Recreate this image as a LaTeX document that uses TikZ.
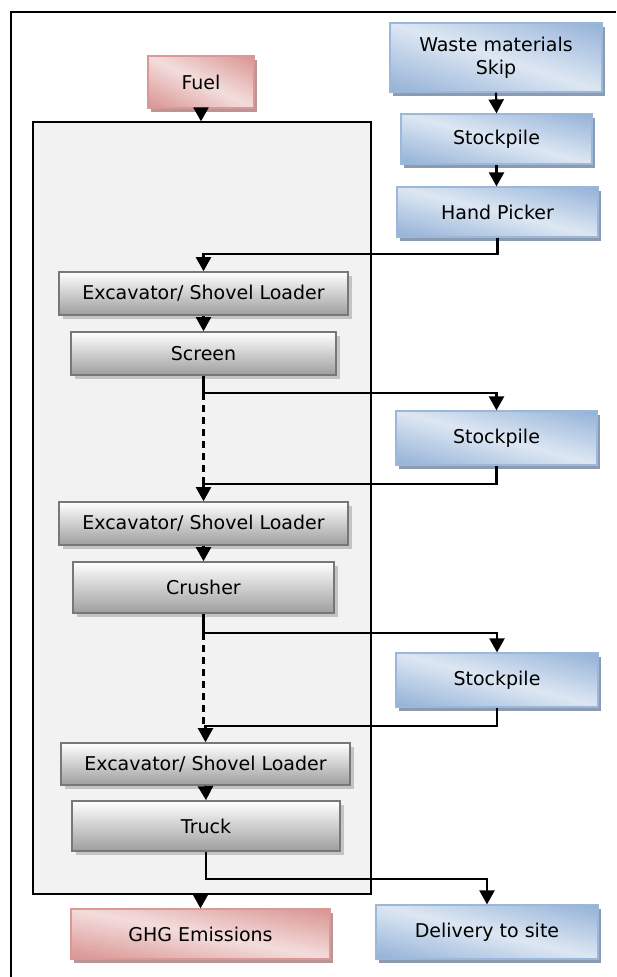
\documentclass[tikz,border=0pt]{standalone}
\usepackage{fontspec}
\setmainfont{DejaVu Sans}
\usetikzlibrary{arrows.meta,shadows,calc}
\definecolor{bluelight}{HTML}{DDE7F3}
\definecolor{bluedark}{HTML}{93B1D7}
\definecolor{blueedge}{HTML}{9BB7DA}
\definecolor{blueshadow}{HTML}{8C9BB0}
\definecolor{redlight}{HTML}{F3DEDD}
\definecolor{reddark}{HTML}{D99391}
\definecolor{rededge}{HTML}{DA9896}
\definecolor{redshadow}{HTML}{B99595}
\definecolor{graytop}{HTML}{FFFFFF}
\definecolor{graymid}{HTML}{D3D3D3}
\definecolor{graybot}{HTML}{9E9E9E}
\definecolor{grayedge}{HTML}{777777}
\definecolor{grayshadow}{HTML}{C4C4C4}
\definecolor{panel}{HTML}{F2F2F2}
% diagonal gradient: light along the top-left/bottom-right diagonal, dark at the other corners
\newcommand{\diagshade}[2]{%
  \foreach \dgI in {0,...,39} {
    \pgfmathsetmacro{\dgS}{-1+\dgI/20}
    \pgfmathsetmacro{\dgT}{-1+(\dgI+1.3)/20}
    \pgfmathsetmacro{\dgM}{100*abs(-1+(\dgI+0.5)/20)}
    \fill[#1!\dgM!#2]
      ($(path picture bounding box.center)!\dgS!(path picture bounding box.north east) - (path picture bounding box.south east) + (path picture bounding box.north west)$) --
      ($(path picture bounding box.center)!\dgS!(path picture bounding box.north east) + (path picture bounding box.south east) - (path picture bounding box.north west)$) --
      ($(path picture bounding box.center)!\dgT!(path picture bounding box.north east) + (path picture bounding box.south east) - (path picture bounding box.north west)$) --
      ($(path picture bounding box.center)!\dgT!(path picture bounding box.north east) - (path picture bounding box.south east) + (path picture bounding box.north west)$) -- cycle;
  }}
\tikzset{
  boxbase/.style={rectangle, inner sep=0pt, align=center, font=\fontsize{19}{23}\selectfont},
  bluebox/.style={boxbase, draw=blueedge, line width=1.2pt, fill=bluelight,
    general shadow={fill=blueshadow, shadow xshift=3pt, shadow yshift=-4pt},
    path picture={\diagshade{bluedark}{bluelight}}},
  redbox/.style={boxbase, draw=rededge, line width=1.2pt, fill=redlight,
    general shadow={fill=redshadow, shadow xshift=3pt, shadow yshift=-4pt},
    path picture={\diagshade{reddark}{redlight}}},
  graybox/.style={boxbase, draw=grayedge, line width=1.6pt,
    general shadow={fill=grayshadow, shadow xshift=4pt, shadow yshift=-4pt},
    top color=graytop, middle color=graymid, bottom color=graybot},
  conn/.style={line width=2.2pt, -{Triangle[width=15pt,length=14pt]}},
  plainconn/.style={line width=2.2pt},
  dashconn/.style={line width=2.2pt, dash pattern=on 7pt off 5pt},
}
\begin{document}
\begin{tikzpicture}[x=1pt,y=-1pt]
\useasboundingbox (0,0) rectangle (616,977);
% outer frame
\draw[line width=1.4pt] (11,977) -- (11,12) -- (616,12);
% machinery panel
\node[draw=black, fill=panel, line width=1.2pt, minimum width=338pt, minimum height=772pt, inner sep=0pt] (panelbox) at (202,508) {};
% nodes
\node[redbox, minimum width=106pt, minimum height=52pt] (fuel) at (201,82) {Fuel};
\node[bluebox, minimum width=212pt, minimum height=69pt] (waste) at (496,57.5) {Waste materials\\Skip};
\node[bluebox, minimum width=191pt, minimum height=50pt] (sp1) at (496.5,139) {Stockpile};
\node[bluebox, minimum width=201pt, minimum height=50pt] (hp) at (497.5,212) {Hand Picker};
\node[graybox, minimum width=289pt, minimum height=43pt] (exc1) at (203.5,293.5) {Excavator/ Shovel Loader};
\node[graybox, minimum width=265pt, minimum height=43pt] (scr) at (203.5,353.5) {Screen};
\node[bluebox, minimum width=201pt, minimum height=54pt] (sp2) at (496.5,438) {Stockpile};
\node[graybox, minimum width=289pt, minimum height=43pt] (exc2) at (203.5,523.5) {Excavator/ Shovel Loader};
\node[graybox, minimum width=261pt, minimum height=51pt] (cru) at (203.5,587.5) {Crusher};
\node[bluebox, minimum width=202pt, minimum height=54pt] (sp3) at (497,680) {Stockpile};
\node[graybox, minimum width=289pt, minimum height=42pt] (exc3) at (205.5,764) {Excavator/ Shovel Loader};
\node[graybox, minimum width=268pt, minimum height=50pt] (trk) at (206,826) {Truck};
\node[redbox, minimum width=259pt, minimum height=50pt] (ghg) at (200.5,934) {GHG Emissions};
\node[bluebox, minimum width=222pt, minimum height=54pt] (del) at (487,932) {Delivery to site};
% junction points
\coordinate (j1) at (203.5,393);
\coordinate (j2) at (203.5,483);
\coordinate (j3) at (203.5,633);
\coordinate (j4) at (203.5,725);
% connectors
\draw[conn] (fuel.south) -- (fuel.south |- panelbox.north);
\draw[conn] (waste.south) -- (sp1.north);
\draw[conn] (sp1.south) -- (sp1.south |- hp.north);
\draw[conn] (hp.south) -- ++(0,16) -| (exc1.north);
\draw[conn] (exc1.south) -- (scr.north);
\draw[plainconn] (scr.south) -- (j1);
\draw[conn] (j1) -| (sp2.north);
\draw[dashconn] (j1) -- (j2);
\draw[conn] (sp2.south) -- ++(0,18) -| (exc2.north);
\draw[conn] (exc2.south) -- (cru.north);
\draw[plainconn] (cru.south) -- (j3);
\draw[conn] (j3) -| (sp3.north);
\draw[dashconn] (j3) -- (j4);
\draw[conn] (sp3.south) -- ++(0,18) -| (exc3.north);
\draw[conn] (exc3.south) -- (trk.north);
\draw[conn] (trk.south) -- ++(0,27) -| (del.north);
\draw[conn] (panelbox.south -| ghg.north) -- (ghg.north);
\end{tikzpicture}
\end{document}
